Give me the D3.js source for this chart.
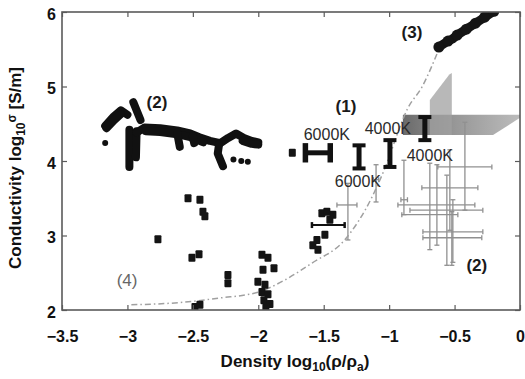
<!DOCTYPE html>
<html>
<head>
<meta charset="utf-8">
<script src="https://cdn.jsdelivr.net/npm/d3@7"></script>
<style>
  html, body { margin: 0; padding: 0; background: #fff; }
  svg { display: block; font-family: "Liberation Sans", Arial, sans-serif; }
</style>
</head>
<body>
<svg id="chart" width="525" height="379"></svg>
<script>
// Axis ticks
const xTicks = [-3.5, -3, -2.5, -2, -1.5, -1, -0.5, 0];
const yTicks = [2, 3, 4, 5, 6];

// (2) dense shock-compression tracks, one polyline per track [log rho/rho0, log sigma]
const trackSegments = [
  [[-3.17, 4.47], [-3.11, 4.59], [-3.05, 4.68], [-3.00, 4.62]],
  [[-3.16, 4.44], [-3.10, 4.55], [-3.05, 4.63]],
  [[-2.985, 4.42], [-2.985, 3.92]],
  [[-2.955, 4.79], [-2.90, 4.55]],
  [[-2.93, 4.40], [-2.935, 4.05]],
  [[-2.93, 4.38], [-2.87, 4.45], [-2.75, 4.44], [-2.62, 4.41], [-2.52, 4.37], [-2.45, 4.32],
   [-2.37, 4.27], [-2.29, 4.24], [-2.23, 4.31], [-2.17, 4.37], [-2.11, 4.31], [-2.05, 4.27], [-2.00, 4.25]],
  [[-2.86, 4.40], [-2.75, 4.39], [-2.62, 4.36], [-2.52, 4.32], [-2.42, 4.25]],
  [[-2.12, 4.27], [-2.05, 4.23], [-2.00, 4.22]],
  [[-2.30, 4.22], [-2.31, 4.10], [-2.27, 3.93]],
  [[-2.62, 4.38], [-2.60, 4.19]],
  [[-2.50, 4.33], [-2.49, 4.24]]
];
const trackDots = [[-3.17, 4.24], [-2.19, 4.02], [-2.13, 4.00], [-2.08, 3.99]];

// Individual measurements (black squares)
const squarePoints = [
  [-2.537, 3.50], [-2.446, 3.48], [-2.423, 3.32], [-2.408, 3.26],
  [-2.767, 2.95], [-2.507, 2.70], [-2.453, 2.75],
  [-2.232, 2.47], [-2.232, 2.36], [-2.484, 2.04], [-2.446, 2.07],
  [-1.972, 2.74], [-1.926, 2.70], [-1.880, 2.56], [-1.964, 2.54], [-2.003, 2.38],
  [-1.949, 2.34], [-1.972, 2.24], [-1.926, 2.21], [-1.957, 2.13], [-1.911, 2.08], [-1.942, 2.03],
  [-1.514, 3.30], [-1.476, 3.32], [-1.430, 3.28], [-1.453, 3.21],
  [-1.491, 3.01], [-1.552, 2.94], [-1.583, 2.87], [-1.544, 2.81],
  [-1.74, 4.11]
];

// (3) dense high-density series
const denseSeries = [
  [-0.62, 5.53], [-0.585, 5.57], [-0.55, 5.61], [-0.515, 5.64], [-0.48, 5.69], [-0.445, 5.73],
  [-0.41, 5.77], [-0.375, 5.81], [-0.34, 5.85], [-0.305, 5.89], [-0.27, 5.93], [-0.235, 5.97], [-0.20, 6.01]
];

// Model curve (dash-dot)
const modelCurve = [
  [-2.97, 2.07], [-2.6, 2.10], [-2.3, 2.16], [-2.0, 2.24], [-1.8, 2.40], [-1.59, 2.63],
  [-1.34, 2.94], [-1.13, 3.52], [-1.0, 4.05], [-0.93, 4.40], [-0.86, 4.70], [-0.75, 4.99], [-0.62, 5.50]
];

// (1) black error-bar measurements: centre, x range, y range
const blackBars = [
  { x: -1.567, y: 4.11, x0: -1.64, x1: -1.45, y0: 3.98, y1: 4.24, w: 5 },
  { x: -1.47, y: 3.14, x0: -1.59, x1: -1.34, y0: 3.10, y1: 3.18, w: 2 },
  { x: -1.23, y: 4.06, x0: -1.23, x1: -1.23, y0: 3.90, y1: 4.21, w: 5 },
  { x: -0.994, y: 4.10, x0: -0.994, x1: -0.994, y0: 3.92, y1: 4.28, w: 5 },
  { x: -0.727, y: 4.44, x0: -0.727, x1: -0.727, y0: 4.28, y1: 4.59, w: 5 }
];

// (2) grey error-bar measurements
const greyBars = [
  { x: -0.421, y: 3.92, x0: -0.628, x1: -0.215, y0: 3.34, y1: 4.52 },
  { x: -0.536, y: 3.64, x0: -0.750, x1: -0.322, y0: 3.07, y1: 4.15 },
  { x: -0.635, y: 3.41, x0: -0.933, x1: -0.345, y0: 2.87, y1: 3.95 },
  { x: -0.559, y: 3.34, x0: -0.841, x1: -0.284, y0: 2.60, y1: 3.81 },
  { x: -0.689, y: 3.28, x0: -0.903, x1: -0.475, y0: 2.81, y1: 3.97 },
  { x: -0.513, y: 3.05, x0: -0.742, x1: -0.284, y0: 2.64, y1: 3.48 },
  { x: -0.521, y: 2.97, x0: -0.742, x1: -0.292, y0: 2.60, y1: 3.32 },
  { x: -0.887, y: 3.48, x0: -0.91, x1: -0.86, y0: 3.28, y1: 4.01 },
  { x: -1.315, y: 3.41, x0: -1.399, x1: -1.246, y0: 2.94, y1: 3.70 },
  { x: -1.10, y: 3.75, x0: -1.12, x1: -1.08, y0: 3.45, y1: 3.95 }
];

// Shaded ranges
const bandShape = [[-0.895, 4.62], [0, 4.62], [0, 4.58], [-0.206, 4.35], [-0.895, 4.35]];
const wedgeShape = [[-0.689, 4.35], [-0.689, 4.82], [-0.54, 5.16], [-0.521, 5.18], [-0.521, 4.35]];

// Annotations [text, log rho/rho0, log sigma]
const regionLabels = [
  ["(1)", -1.330, 4.725], ["(2)", -2.774, 4.78], ["(3)", -0.826, 5.73], ["(2)", -0.330, 2.60]
];
const faintLabels = [["(4)", -3.003, 2.40]];
const tempLabels = [
  ["6000K", -1.476, 4.35], ["4000K", -1.010, 4.43], ["4000K", -0.689, 4.08], ["6000K", -1.239, 3.72]
];

const svg = d3.select("#chart");
const pLeft = 62, pRight = 520, pTop = 12, pBottom = 310;

const x = d3.scaleLinear().domain([-3.5, 0]).range([pLeft, pRight]);
const y = d3.scaleLinear().domain([2, 6]).range([pBottom, pTop]);

const defs = svg.append("defs");
defs.append("clipPath").attr("id", "plotClip")
  .append("rect").attr("x", pLeft).attr("y", pTop).attr("width", pRight - pLeft).attr("height", pBottom - pTop);
const grad = defs.append("linearGradient").attr("id", "bandGrad").attr("x1", "0").attr("x2", "1").attr("y1", "0").attr("y2", "0");
grad.append("stop").attr("offset", "0").attr("stop-color", "#5a5a5a");
grad.append("stop").attr("offset", "0.45").attr("stop-color", "#8c8c8c");
grad.append("stop").attr("offset", "1").attr("stop-color", "#b4b4b4");

const plot = svg.append("g").attr("clip-path", "url(#plotClip)");
const line = d3.line().x(d => x(d[0])).y(d => y(d[1]));

// shaded ranges
plot.append("path").datum(bandShape).attr("d", d => line(d) + "Z")
  .attr("fill", "url(#bandGrad)").attr("opacity", 0.9);
plot.append("path").datum(wedgeShape).attr("d", d => line(d) + "Z")
  .attr("fill", "#a0a0a0").attr("opacity", 0.75);

// grey error bars
const gb = plot.append("g").attr("stroke", "#909090").attr("stroke-width", 1.3).attr("fill", "none");
greyBars.forEach(b => {
  gb.append("line").attr("x1", x(b.x0)).attr("x2", x(b.x1)).attr("y1", y(b.y)).attr("y2", y(b.y));
  gb.append("line").attr("x1", x(b.x)).attr("x2", x(b.x)).attr("y1", y(b.y0)).attr("y2", y(b.y1));
  [b.x0, b.x1].forEach(v => gb.append("line").attr("x1", x(v)).attr("x2", x(v)).attr("y1", y(b.y) - 2.5).attr("y2", y(b.y) + 2.5));
  [b.y0, b.y1].forEach(v => gb.append("line").attr("x1", x(b.x) - 2.5).attr("x2", x(b.x) + 2.5).attr("y1", y(v)).attr("y2", y(v)));
});

// model curve
plot.append("path").datum(modelCurve)
  .attr("d", d3.line().x(d => x(d[0])).y(d => y(d[1])).curve(d3.curveMonotoneX))
  .attr("fill", "none").attr("stroke", "#a0a0a0").attr("stroke-width", 1.5)
  .attr("stroke-dasharray", "6,3,1.5,3");

// (2) tracks
plot.append("g").selectAll("path").data(trackSegments).join("path")
  .attr("d", line).attr("fill", "none").attr("stroke", "#111")
  .attr("stroke-width", 8).attr("stroke-linecap", "round").attr("stroke-linejoin", "round");
plot.append("g").selectAll("circle").data(trackDots).join("circle")
  .attr("cx", d => x(d[0])).attr("cy", d => y(d[1])).attr("r", 3).attr("fill", "#111");

// (3) dense series
plot.append("path").datum(denseSeries).attr("d", line).attr("fill", "none")
  .attr("stroke", "#151515").attr("stroke-width", 9).attr("stroke-linecap", "round");
plot.append("g").selectAll("circle").data(denseSeries.filter((d, i) => i % 2 === 0)).join("circle")
  .attr("cx", d => x(d[0])).attr("cy", d => y(d[1])).attr("r", 5.5).attr("fill", "#151515");

// black squares
plot.append("g").selectAll("rect").data(squarePoints).join("rect")
  .attr("x", d => x(d[0]) - 3.5).attr("y", d => y(d[1]) - 4).attr("width", 7).attr("height", 8)
  .attr("rx", 1).attr("fill", "#141414");

// black error bars
const bb = plot.append("g").attr("stroke", "#111").attr("fill", "none");
blackBars.forEach(b => {
  const horiz = b.x1 - b.x0 > 0.01;
  if (horiz) {
    bb.append("line").attr("x1", x(b.x0)).attr("x2", x(b.x1)).attr("y1", y(b.y)).attr("y2", y(b.y)).attr("stroke-width", b.w);
    [b.x0, b.x1].forEach(v => bb.append("line").attr("x1", x(v)).attr("x2", x(v))
      .attr("y1", y(b.y1)).attr("y2", y(b.y0)).attr("stroke-width", b.w + 0.5));
  } else {
    bb.append("line").attr("x1", x(b.x)).attr("x2", x(b.x)).attr("y1", y(b.y0)).attr("y2", y(b.y1)).attr("stroke-width", b.w);
    [b.y0, b.y1].forEach(v => bb.append("line").attr("x1", x(b.x) - 6.5).attr("x2", x(b.x) + 6.5)
      .attr("y1", y(v)).attr("y2", y(v)).attr("stroke-width", 4));
  }
});

// labels
svg.append("g").selectAll("text").data(tempLabels).join("text")
  .attr("x", d => x(d[1])).attr("y", d => y(d[2])).attr("text-anchor", "middle")
  .attr("dominant-baseline", "central").attr("font-size", 16).attr("fill", "#2a2a2a").text(d => d[0]);
svg.append("g").selectAll("text").data(regionLabels).join("text")
  .attr("x", d => x(d[1])).attr("y", d => y(d[2])).attr("text-anchor", "middle")
  .attr("dominant-baseline", "central").attr("font-size", 17).attr("font-weight", "bold").attr("fill", "#1a1a1a").text(d => d[0]);
svg.append("g").selectAll("text").data(faintLabels).join("text")
  .attr("x", d => x(d[1])).attr("y", d => y(d[2])).attr("text-anchor", "middle")
  .attr("dominant-baseline", "central").attr("font-size", 17).attr("fill", "#666").text(d => d[0]);

// frame and axes
svg.append("rect").attr("x", pLeft).attr("y", pTop).attr("width", pRight - pLeft).attr("height", pBottom - pTop)
  .attr("fill", "none").attr("stroke", "#5a5a5a").attr("stroke-width", 1.6);

const xAxis = svg.append("g").attr("transform", `translate(0,${pBottom})`)
  .call(d3.axisBottom(x).tickValues(xTicks).tickFormat(d3.format("")).tickSize(-5).tickPadding(21));
const yAxis = svg.append("g").attr("transform", `translate(${pLeft},0)`)
  .call(d3.axisLeft(y).tickValues(yTicks).tickFormat(d3.format("d")).tickSize(-5).tickPadding(6));
svg.append("g").attr("transform", `translate(${pRight},0)`)
  .call(d3.axisRight(y).tickValues(yTicks).tickFormat("").tickSize(-5));
svg.append("g").attr("transform", `translate(0,${pTop})`)
  .call(d3.axisTop(x).tickValues(xTicks).tickFormat("").tickSize(-5));
svg.selectAll(".domain").remove();
svg.selectAll(".tick line").attr("stroke", "#5a5a5a").attr("stroke-width", 1.2);
svg.selectAll(".tick text").attr("font-size", 16).attr("font-weight", "bold").attr("fill", "#111")
  .attr("font-family", "Liberation Sans, Arial, sans-serif");
yAxis.selectAll(".tick text").attr("dy", "0.45em");

// axis titles
const xt = svg.append("text").attr("x", 295).attr("y", 367).attr("text-anchor", "middle")
  .attr("font-size", 17).attr("font-weight", "bold").attr("fill", "#111");
xt.append("tspan").text("Density log");
xt.append("tspan").attr("font-size", 12).attr("dy", 4).text("10");
xt.append("tspan").attr("dy", -4).text("(ρ/ρ");
xt.append("tspan").attr("font-size", 12).attr("dy", 4).text("a");
xt.append("tspan").attr("dy", -4).text(")");

const yt = svg.append("text").attr("transform", "translate(21,168) rotate(-90)").attr("text-anchor", "middle")
  .attr("font-size", 17).attr("font-weight", "bold").attr("fill", "#111");
yt.append("tspan").text("Conductivity log");
yt.append("tspan").attr("font-size", 12).attr("dy", 4).text("10");
yt.append("tspan").attr("font-size", 12).attr("dy", -9).text("σ");
yt.append("tspan").attr("dy", 5).text(" [S/m]");
</script>
</body>
</html>
